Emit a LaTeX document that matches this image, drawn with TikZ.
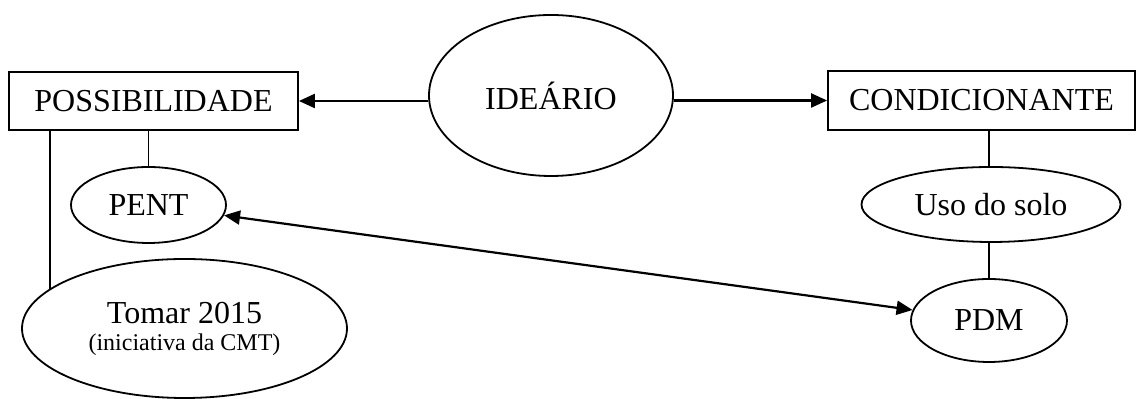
\documentclass[tikz,border=0pt]{standalone}
\usepackage{fontspec}
\setmainfont{Liberation Serif}
\usetikzlibrary{shapes.geometric,arrows.meta}
\begin{document}
\begin{tikzpicture}[x=0.5pt,y=-0.5pt,
  box/.style={draw,line width=0.9pt,rectangle,inner sep=0pt,font=\fontsize{16}{19}\selectfont},
  oval/.style={draw,line width=0.9pt,ellipse,inner sep=0pt,font=\fontsize{16}{19}\selectfont},
  link/.style={line width=0.9pt},
  arr/.style={line width=1.1pt,-{Triangle[length=8pt,width=7pt]}},
  darr/.style={line width=1.1pt,{Triangle[length=8pt,width=7pt]}-{Triangle[length=8pt,width=7pt]}}]
\useasboundingbox (0,0) rectangle (1137,399);

% main concepts
\node[box,minimum width=144.5pt,minimum height=29pt] (poss) at (153.5,101) {POSSIBILIDADE};
\node[box,minimum width=153.5pt,minimum height=29.5pt] (cond) at (981.5,100.5) {CONDICIONANTE};
\node[oval,minimum width=122pt,minimum height=80.5pt] (idea) at (551,95.5) {IDEÁRIO};

% instruments
\node[oval,minimum width=162.5pt,minimum height=69.5pt,align=center] (tomar) at (184.5,328.5)
  {Tomar 2015\\[-5.5pt]{\fontsize{12}{14}\selectfont (iniciativa da CMT)}};
\node[oval,minimum width=77.5pt,minimum height=38pt] (pent) at (148.5,205) {PENT};
\node[oval,minimum width=129.5pt,minimum height=37.5pt] (uso) at (991,204.5) {Uso do solo};
\node[oval,minimum width=78pt,minimum height=41.5pt] (pdm) at (989,320.5) {PDM};

% arrows from the central idea
\draw[arr] (idea.west |- poss.east) -- (poss.east);
\draw[arr] (idea.east |- cond.west) -- (cond.west);

% hierarchy links
\coordinate (tl) at (50,289.5);
\draw[link] (tl |- poss.south) -- (tl);
\draw[link] (pent.north) -- (pent.north |- poss.south);
\draw[link] (pdm.north |- uso.north) -- (pdm.north |- cond.south);
\draw[link] (pdm.north |- uso.south) -- (pdm.north);

% two-way relation
\draw[darr] (pent) -- (pdm);
\end{tikzpicture}
\end{document}
